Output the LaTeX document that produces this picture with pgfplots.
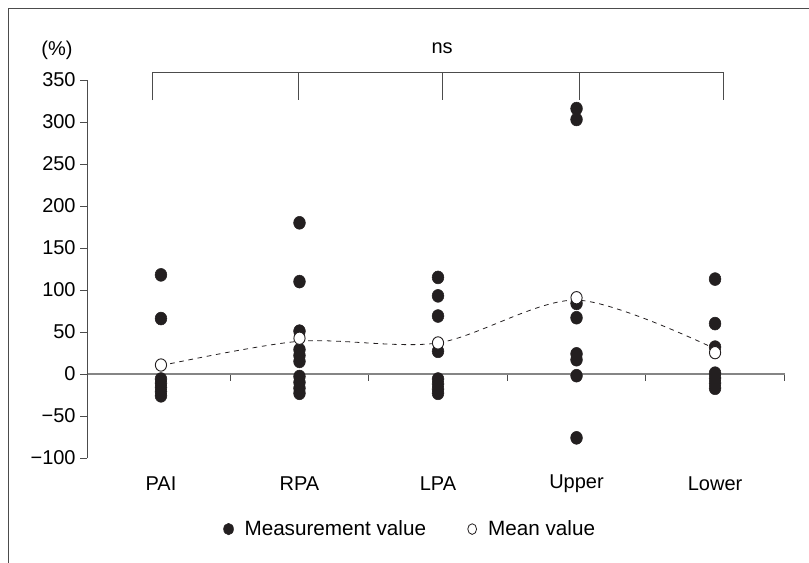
\documentclass[border=0pt]{standalone}
\usepackage{fontspec}
\setmainfont{Liberation Sans}
\usepackage{pgfplots}
\pgfplotsset{compat=1.18}
\definecolor{dotc}{HTML}{231F20}
\definecolor{axc}{HTML}{858585}
\begin{document}
\begin{tikzpicture}[x=1pt,y=1pt,font=\fontsize{15}{18}\selectfont]
\useasboundingbox (0,0) rectangle (606.75,422.25);
\draw[line width=0.6pt, black!70] (6,0) -- (6,416.25) -- (606.75,416.25);
\begin{axis}[
  at={(65.25pt,78.75pt)}, anchor=south west,
  scale only axis, width=523.5pt, height=283.5pt,
  xmin=-0.534, xmax=4.505, ymin=-100, ymax=350,
  axis x line=middle, axis y line=left,
  x axis line style={-, line width=1pt, color=axc},
  y axis line style={-, line width=0.6pt, color=black!70},
  hide obscured x ticks=false, hide obscured y ticks=false,
  xtick={0.5,1.5,2.5,3.5,4.5}, xticklabels={},
  ytick={-100,-50,...,350},
  yticklabels={−100,−50,0,50,100,150,200,250,300,350},
  tick align=outside, major tick length=5pt,
  tick style={black!70, line width=0.6pt},
  ticklabel style={font=\fontsize{15}{18}\selectfont},
  clip=false,
  legend columns=2,
  legend style={draw=none, fill=none, at={(0.4635,-0.188)}, anchor=center,
    font=\fontsize{15.5}{18}\selectfont,
    /tikz/every even column/.append style={column sep=29pt}},
]
\addplot[forget plot, smooth, tension=0.5, dash pattern=on 3.5pt off 3.5pt, line width=0.6pt, dotc]
  coordinates {(0,10)(1,39)(2,37)(3,88)(4,30)};
\addplot[only marks, mark=*, mark size=4.4pt, mark options={fill=dotc, draw=dotc, yscale=1.1},
  legend image code/.code={\fill[dotc] (0,0) ellipse[x radius=3.7pt, y radius=4.3pt]; \path[draw=none,fill=none] (0,0) -- (10pt,0);}]
  coordinates {
  (0,118)(0,66)(0,-6)(0,-11)(0,-16)(0,-21)(0,-26)
  (1,180)(1,110)(1,51)(1,29)(1,22)(1,15)(1,-3)(1,-10)(1,-17)(1,-23)
  (2,115)(2,93)(2,69)(2,27)(2,-6)(2,-12)(2,-18)(2,-23)
  (3,316)(3,303)(3,84)(3,67)(3,24)(3,17)(3,-2)(3,-76)
  (4,113)(4,60)(4,32)(4,1)(4,-5)(4,-11)(4,-17)
  };
\addlegendentry{Measurement value}
\addplot[only marks, mark=*, mark size=4.2pt, mark options={fill=white, draw=dotc, line width=0.7pt, yscale=1.1},
  legend image code/.code={\draw[dotc, line width=0.6pt, fill=white] (0,0) ellipse[x radius=3.3pt, y radius=4pt]; \path[draw=none,fill=none] (0,0) -- (10pt,0);}]
  coordinates {(0,10.7)(1,42.6)(2,37)(3,90.8)(4,25.4)};
\addlegendentry{Mean value}
\draw[black!70, line width=0.6pt] (axis cs:-0.065,326) -- (axis cs:-0.065,359.5) -- (axis cs:4.058,359.5) -- (axis cs:4.058,326);
\draw[black!70, line width=0.6pt] (axis cs:0.989,359.5) -- (axis cs:0.989,326);
\draw[black!70, line width=0.6pt] (axis cs:2.029,359.5) -- (axis cs:2.029,326);
\draw[black!70, line width=0.6pt] (axis cs:3.018,359.5) -- (axis cs:3.018,326);
\node at (axis cs:2.03,388) {ns};
\node at (axis cs:-0.751,385.7) {(\%)};
\node at (axis cs:0,-131) {PAI};
\node at (axis cs:1,-131) {RPA};
\node at (axis cs:2,-131) {LPA};
\node at (axis cs:3,-131) {Upper};
\node at (axis cs:4,-131) {Lower};
\end{axis}
\end{tikzpicture}
\end{document}
